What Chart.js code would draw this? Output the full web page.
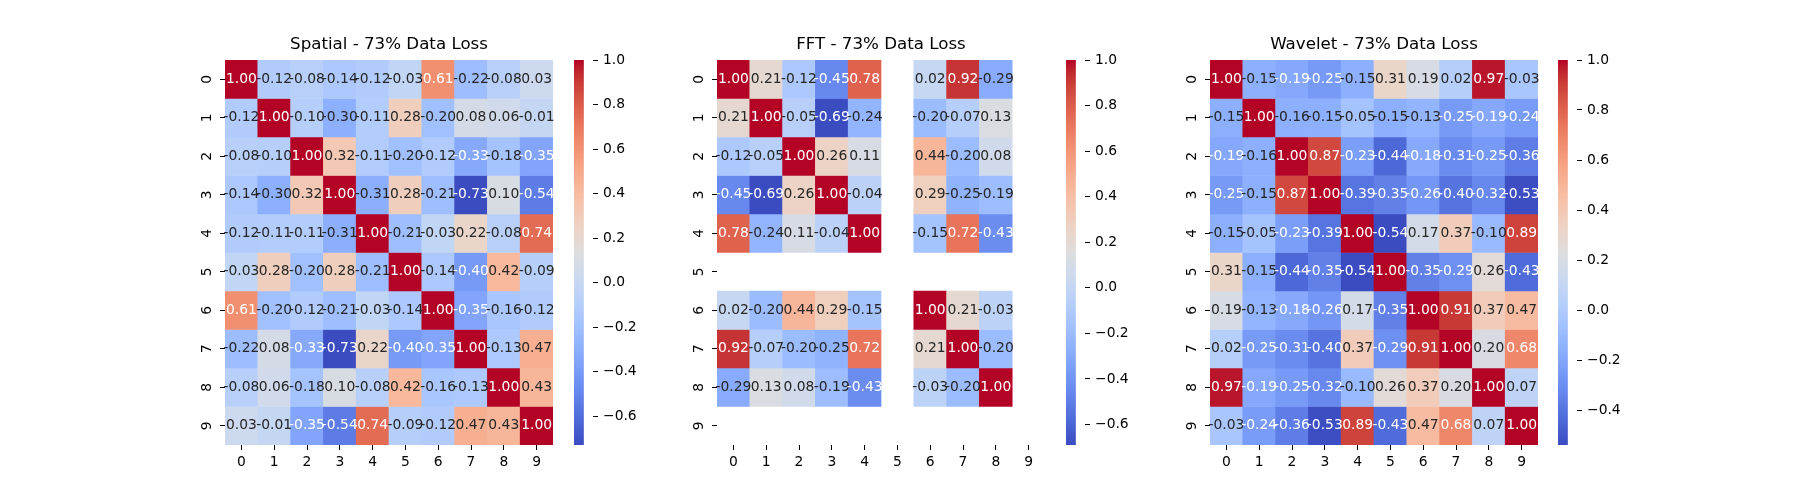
<!DOCTYPE html>
<html>
<head>
<meta charset="utf-8">
<title>Correlation heatmaps - 73% data loss</title>
<script src="https://cdn.jsdelivr.net/npm/chart.js@4.4.1/dist/chart.umd.min.js"></script>
<style>
  html, body { margin: 0; padding: 0; background: #fff; }
  #fig { position: relative; width: 1800px; height: 500px; overflow: hidden; }
  .box { position: absolute; top: 0; height: 500px; }
</style>
</head>
<body>
<div id="fig"></div>
<script>
// ---- data ----
const rowLabels = ['0', '1', '2', '3', '4', '5', '6', '7', '8', '9'];
const colLabels = ['0', '1', '2', '3', '4', '5', '6', '7', '8', '9'];
const titles = ['Spatial - 73% Data Loss', 'FFT - 73% Data Loss', 'Wavelet - 73% Data Loss'];

const spatialCorr = [
  [1.00, -0.12, -0.08, -0.14, -0.12, -0.03, 0.61, -0.22, -0.08, 0.03],
  [-0.12, 1.00, -0.10, -0.30, -0.11, 0.28, -0.20, 0.08, 0.06, -0.01],
  [-0.08, -0.10, 1.00, 0.32, -0.11, -0.20, -0.12, -0.33, -0.18, -0.35],
  [-0.14, -0.30, 0.32, 1.00, -0.31, 0.28, -0.21, -0.73, 0.10, -0.54],
  [-0.12, -0.11, -0.11, -0.31, 1.00, -0.21, -0.03, 0.22, -0.08, 0.74],
  [-0.03, 0.28, -0.20, 0.28, -0.21, 1.00, -0.14, -0.40, 0.42, -0.09],
  [0.61, -0.20, -0.12, -0.21, -0.03, -0.14, 1.00, -0.35, -0.16, -0.12],
  [-0.22, 0.08, -0.33, -0.73, 0.22, -0.40, -0.35, 1.00, -0.13, 0.47],
  [-0.08, 0.06, -0.18, 0.10, -0.08, 0.42, -0.16, -0.13, 1.00, 0.43],
  [0.03, -0.01, -0.35, -0.54, 0.74, -0.09, -0.12, 0.47, 0.43, 1.00]
];

// null = NaN (no data, cell left blank)
const fftCorr = [
  [1.00, 0.21, -0.12, -0.45, 0.78, null, 0.02, 0.92, -0.29, null],
  [0.21, 1.00, -0.05, -0.69, -0.24, null, -0.20, -0.07, 0.13, null],
  [-0.12, -0.05, 1.00, 0.26, 0.11, null, 0.44, -0.20, 0.08, null],
  [-0.45, -0.69, 0.26, 1.00, -0.04, null, 0.29, -0.25, -0.19, null],
  [0.78, -0.24, 0.11, -0.04, 1.00, null, -0.15, 0.72, -0.43, null],
  [null, null, null, null, null, null, null, null, null, null],
  [0.02, -0.20, 0.44, 0.29, -0.15, null, 1.00, 0.21, -0.03, null],
  [0.92, -0.07, -0.20, -0.25, 0.72, null, 0.21, 1.00, -0.20, null],
  [-0.29, 0.13, 0.08, -0.19, -0.43, null, -0.03, -0.20, 1.00, null],
  [null, null, null, null, null, null, null, null, null, null]
];

const waveletCorr = [
  [1.00, -0.15, -0.19, -0.25, -0.15, 0.31, 0.19, 0.02, 0.97, -0.03],
  [-0.15, 1.00, -0.16, -0.15, -0.05, -0.15, -0.13, -0.25, -0.19, -0.24],
  [-0.19, -0.16, 1.00, 0.87, -0.23, -0.44, -0.18, -0.31, -0.25, -0.36],
  [-0.25, -0.15, 0.87, 1.00, -0.39, -0.35, -0.26, -0.40, -0.32, -0.53],
  [-0.15, -0.05, -0.23, -0.39, 1.00, -0.54, 0.17, 0.37, -0.10, 0.89],
  [0.31, -0.15, -0.44, -0.35, -0.54, 1.00, -0.35, -0.29, 0.26, -0.43],
  [0.19, -0.13, -0.18, -0.26, 0.17, -0.35, 1.00, 0.91, 0.37, 0.47],
  [0.02, -0.25, -0.31, -0.40, 0.37, -0.29, 0.91, 1.00, 0.20, 0.68],
  [0.97, -0.19, -0.25, -0.32, -0.10, 0.26, 0.37, 0.20, 1.00, 0.07],
  [-0.03, -0.24, -0.36, -0.53, 0.89, -0.43, 0.47, 0.68, 0.07, 1.00]
];

const colorbarTicks = [-0.6, -0.4, -0.2, 0.0, 0.2, 0.4, 0.6, 0.8, 1.0];

// coolwarm control points (33 evenly spaced)
const coolwarmStops = [
  [59, 76, 192], [68, 90, 204], [77, 104, 215], [87, 117, 225], [98, 130, 234],
  [108, 142, 241], [119, 154, 247], [130, 165, 251], [141, 176, 254], [152, 185, 255],
  [163, 194, 255], [174, 201, 253], [184, 208, 249], [194, 213, 244], [204, 217, 238],
  [213, 219, 230], [221, 221, 221], [229, 216, 209], [236, 211, 197], [241, 204, 185],
  [245, 196, 173], [247, 187, 160], [247, 177, 148], [247, 166, 135], [244, 154, 123],
  [241, 141, 111], [236, 127, 99], [229, 112, 88], [222, 96, 77], [213, 80, 66],
  [203, 62, 56], [192, 40, 47], [180, 4, 38]
];

// ---- colormap helpers ----
const lut = [];
for (let i = 0; i < 256; i++) {
  const t = i / 255 * (coolwarmStops.length - 1);
  const k = Math.min(Math.floor(t), coolwarmStops.length - 2);
  const f = t - k;
  const a = coolwarmStops[k], b = coolwarmStops[k + 1];
  lut.push([0, 1, 2].map(c => a[c] + (b[c] - a[c]) * f));
}
const rgbStr = c => `rgb(${c.map(Math.round).join(',')})`;

function cmap(v, vmin, vmax) {
  let idx = Math.floor((v - vmin) / (vmax - vmin) * 256);
  idx = Math.max(0, Math.min(255, idx));
  return lut[idx];
}

function luminance(c) {
  const lin = c.map(x => {
    x /= 255;
    return x <= 0.03928 ? x / 12.92 : Math.pow((x + 0.055) / 1.055, 2.4);
  });
  return 0.2126 * lin[0] + 0.7152 * lin[1] + 0.0722 * lin[2];
}

// ---- layout (matplotlib 18x5 in figure, 3 subplots + colorbars) ----
const AX_W = 1800 * (0.9 - 0.125) / 3.4;
const HM_W = Math.round(AX_W * 0.8);
const CB_W = 19;
const Y_AXIS_W = 45;
const PAD_R = 8;
const CB_AXIS_W = 60;

Chart.defaults.font.family = '"DejaVu Sans", sans-serif';
Chart.defaults.font.size = 13.89;
Chart.defaults.color = '#000';

const fig = document.getElementById('fig');

function addCanvas(left, width) {
  const div = document.createElement('div');
  div.className = 'box';
  div.style.left = left + 'px';
  div.style.width = width + 'px';
  const cv = document.createElement('canvas');
  div.appendChild(cv);
  fig.appendChild(div);
  return cv;
}

function drawPanel(k, title, matrix) {
  const axLeft = Math.round(125 * 1.8 + k * AX_W * 1.2);
  const flat = matrix.flat().filter(v => v !== null);
  const vmin = Math.min(...flat);
  const vmax = Math.max(...flat);

  const datasets = rowLabels.map((r, i) => ({
    data: colLabels.map((c, j) => matrix[i][j] === null ? null : [i, i + 1]),
    backgroundColor: colLabels.map((c, j) =>
      matrix[i][j] === null ? 'rgba(0,0,0,0)' : rgbStr(cmap(matrix[i][j], vmin, vmax))),
    borderWidth: 0,
    barPercentage: 1,
    categoryPercentage: 1,
    grouped: false
  }));

  const cellText = {
    id: 'cellText',
    afterDatasetsDraw(chart) {
      const ctx = chart.ctx;
      ctx.save();
      ctx.font = '13.89px "DejaVu Sans"';
      ctx.textAlign = 'center';
      ctx.textBaseline = 'middle';
      chart.data.datasets.forEach((ds, i) => {
        chart.getDatasetMeta(i).data.forEach((bar, j) => {
          const v = matrix[i][j];
          if (v === null) return;
          const col = cmap(v, vmin, vmax);
          ctx.fillStyle = luminance(col) > 0.408 ? '#262626' : '#ffffff';
          ctx.fillText(v.toFixed(2), bar.x, (bar.y + bar.base) / 2);
        });
      });
      ctx.restore();
    }
  };

  new Chart(addCanvas(axLeft - Y_AXIS_W, Y_AXIS_W + HM_W + PAD_R), {
    type: 'bar',
    data: { labels: colLabels, datasets },
    options: {
      responsive: true,
      maintainAspectRatio: false,
      animation: false,
      events: [],
      layout: { padding: { left: 0, right: PAD_R, top: 0, bottom: 0 } },
      plugins: {
        legend: { display: false },
        tooltip: { enabled: false },
        title: {
          display: true,
          text: title,
          fullSize: false,
          color: '#000',
          font: { size: 16.67, weight: 'normal' },
          padding: { top: 35, bottom: 5 }
        }
      },
      scales: {
        x: {
          type: 'category',
          offset: true,
          grid: { display: true, offset: false, drawOnChartArea: false, drawTicks: true,
                  tickLength: 5, tickColor: '#000', tickWidth: 1 },
          border: { display: false },
          ticks: { padding: 4, minRotation: 0, maxRotation: 0, autoSkip: false },
          afterFit(scale) { scale.height = 55; }
        },
        y: {
          type: 'linear',
          min: 0,
          max: rowLabels.length,
          reverse: true,
          stacked: false,
          grid: { display: true, drawOnChartArea: false, drawTicks: true,
                  tickLength: 5, tickColor: '#000', tickWidth: 1 },
          border: { display: false },
          ticks: {
            padding: 8,
            minRotation: 90,
            maxRotation: 90,
            crossAlign: 'center',
            autoSkip: false,
            callback: v => rowLabels[Math.floor(v)]
          },
          afterBuildTicks(scale) {
            scale.ticks = rowLabels.map((r, i) => ({ value: i + 0.5 }));
          },
          afterFit(scale) { scale.width = Y_AXIS_W; }
        }
      }
    },
    plugins: [cellText]
  });

  // colorbar
  const cbLeft = Math.round(125 * 1.8 + k * AX_W * 1.2 + AX_W * 0.85);
  new Chart(addCanvas(cbLeft, CB_W + CB_AXIS_W), {
    type: 'bar',
    data: {
      labels: [''],
      datasets: [{
        data: [[vmin, vmax]],
        borderWidth: 0,
        barPercentage: 1,
        categoryPercentage: 1,
        backgroundColor(c) {
          const area = c.chart.chartArea;
          if (!area) return 'rgba(0,0,0,0)';
          const g = c.chart.ctx.createLinearGradient(0, area.bottom, 0, area.top);
          lut.forEach((col, i) => g.addColorStop(i / 255, rgbStr(col)));
          return g;
        }
      }]
    },
    options: {
      responsive: true,
      maintainAspectRatio: false,
      animation: false,
      events: [],
      layout: { padding: { left: 0, right: 0, top: 60, bottom: 55 } },
      plugins: { legend: { display: false }, tooltip: { enabled: false } },
      scales: {
        x: { display: false, offset: false },
        y: {
          type: 'linear',
          position: 'right',
          min: vmin,
          max: vmax,
          grid: { display: true, drawOnChartArea: false, drawTicks: true,
                  tickLength: 5, tickColor: '#000', tickWidth: 1 },
          border: { display: false },
          ticks: {
            padding: 5,
            autoSkip: false,
            callback: v => v.toFixed(1).replace('-', '\u2212')
          },
          afterBuildTicks(scale) {
            scale.ticks = colorbarTicks.filter(t => t >= vmin - 1e-9 && t <= vmax + 1e-9)
              .map(t => ({ value: t }));
          },
          afterFit(scale) { scale.width = CB_AXIS_W; }
        }
      }
    }
  });
}

drawPanel(0, titles[0], spatialCorr);
drawPanel(1, titles[1], fftCorr);
drawPanel(2, titles[2], waveletCorr);
</script>
</body>
</html>
